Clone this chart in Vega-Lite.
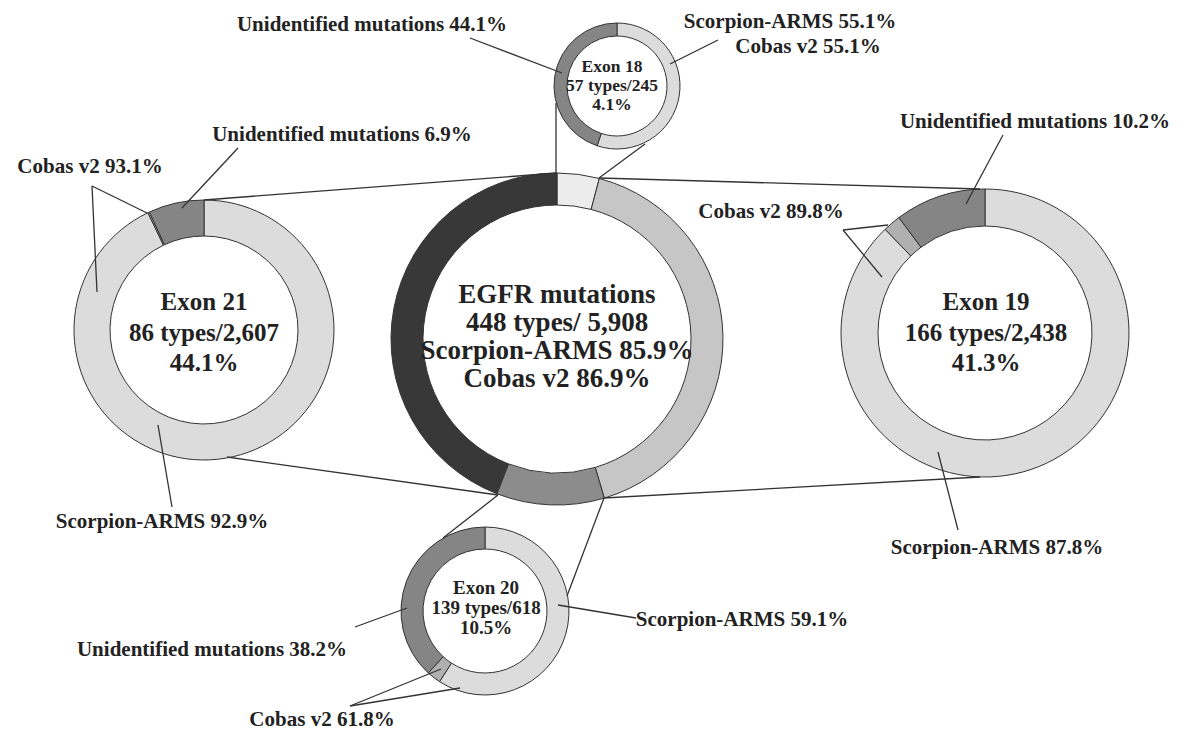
{
  "$schema": "https://vega.github.io/schema/vega-lite/v6.json",
  "width": 1196,
  "height": 736,
  "autosize": "none",
  "padding": 0,
  "background": "white",
  "config": {"view": {"stroke": null}},
  "datasets": {
    "segs": [
      {"donut": "center", "seg": "e18", "order": 1, "value": 4.1, "cx": 557, "cy": 339},
      {"donut": "center", "seg": "e19", "order": 2, "value": 41.3, "cx": 557, "cy": 339},
      {"donut": "center", "seg": "e20", "order": 3, "value": 10.5, "cx": 557, "cy": 339},
      {"donut": "center", "seg": "e21", "order": 4, "value": 44.1, "cx": 557, "cy": 339},
      {"donut": "exon21", "seg": "grid", "order": 1, "value": 92.9, "cx": 204, "cy": 330},
      {"donut": "exon21", "seg": "cobas", "order": 2, "value": 0.2, "cx": 204, "cy": 330},
      {"donut": "exon21", "seg": "unid", "order": 3, "value": 6.9, "cx": 204, "cy": 330},
      {"donut": "exon19", "seg": "grid", "order": 1, "value": 87.8, "cx": 985, "cy": 333},
      {"donut": "exon19", "seg": "cobas", "order": 2, "value": 2.0, "cx": 985, "cy": 333},
      {"donut": "exon19", "seg": "unid", "order": 3, "value": 10.2, "cx": 985, "cy": 333},
      {"donut": "exon18", "seg": "grid", "order": 1, "value": 55.1, "cx": 617, "cy": 86},
      {"donut": "exon18", "seg": "unid", "order": 3, "value": 44.9, "cx": 617, "cy": 86},
      {"donut": "exon20", "seg": "grid", "order": 1, "value": 59.1, "cx": 485, "cy": 611},
      {"donut": "exon20", "seg": "cobas", "order": 2, "value": 2.7, "cx": 485, "cy": 611},
      {"donut": "exon20", "seg": "unid", "order": 3, "value": 38.2, "cx": 485, "cy": 611}
    ],
    "lines": [
      {"x": 204, "y": 200, "x2": 557, "y2": 173},
      {"x": 227, "y": 457, "x2": 498, "y2": 495},
      {"x": 599, "y": 178, "x2": 980, "y2": 189},
      {"x": 604, "y": 498, "x2": 980, "y2": 477},
      {"x": 556, "y": 173, "x2": 556, "y2": 103},
      {"x": 599, "y": 178, "x2": 645, "y2": 144},
      {"x": 498, "y": 495, "x2": 443, "y2": 538},
      {"x": 604, "y": 498, "x2": 567, "y2": 596},
      {"x": 470, "y": 38, "x2": 562, "y2": 73},
      {"x": 670, "y": 64, "x2": 718, "y2": 40},
      {"x": 238, "y": 148, "x2": 182, "y2": 208},
      {"x": 92, "y": 186, "x2": 147, "y2": 213},
      {"x": 92, "y": 186, "x2": 97, "y2": 292},
      {"x": 172, "y": 507, "x2": 158, "y2": 425},
      {"x": 1003, "y": 135, "x2": 966, "y2": 204},
      {"x": 843, "y": 230, "x2": 888, "y2": 225},
      {"x": 843, "y": 230, "x2": 882, "y2": 277},
      {"x": 958, "y": 530, "x2": 938, "y2": 452},
      {"x": 355, "y": 627, "x2": 407, "y2": 608},
      {"x": 350, "y": 706, "x2": 441, "y2": 669},
      {"x": 350, "y": 706, "x2": 460, "y2": 688},
      {"x": 636, "y": 618, "x2": 558, "y2": 605}
    ],
    "centerText": [
      {"x": 557, "y": 295, "text": "EGFR mutations"},
      {"x": 557, "y": 323, "text": "448 types/ 5,908"},
      {"x": 557, "y": 351, "text": "Scorpion-ARMS 85.9%"},
      {"x": 557, "y": 379, "text": "Cobas v2 86.9%"}
    ],
    "bigText": [
      {"x": 204, "y": 302, "text": "Exon 21"},
      {"x": 204, "y": 333, "text": "86 types/2,607"},
      {"x": 204, "y": 363, "text": "44.1%"},
      {"x": 986, "y": 302, "text": "Exon 19"},
      {"x": 986, "y": 333, "text": "166 types/2,438"},
      {"x": 986, "y": 363, "text": "41.3%"}
    ],
    "smallText": [
      {"x": 612, "y": 67, "text": "Exon 18"},
      {"x": 612, "y": 86, "text": "57 types/245"},
      {"x": 612, "y": 105, "text": "4.1%"}
    ],
    "midText": [
      {"x": 486, "y": 588, "text": "Exon 20"},
      {"x": 486, "y": 608, "text": "139 types/618"},
      {"x": 486, "y": 628, "text": "10.5%"}
    ],
    "labels": [
      {"x": 372, "y": 25, "text": "Unidentified mutations 44.1%"},
      {"x": 790, "y": 22, "text": "Scorpion-ARMS 55.1%"},
      {"x": 808, "y": 47, "text": "Cobas v2 55.1%"},
      {"x": 342, "y": 135, "text": "Unidentified mutations 6.9%"},
      {"x": 90, "y": 167, "text": "Cobas v2 93.1%"},
      {"x": 162, "y": 522, "text": "Scorpion-ARMS 92.9%"},
      {"x": 1035, "y": 122, "text": "Unidentified mutations 10.2%"},
      {"x": 771, "y": 212, "text": "Cobas v2 89.8%"},
      {"x": 997, "y": 548, "text": "Scorpion-ARMS 87.8%"},
      {"x": 212, "y": 650, "text": "Unidentified mutations 38.2%"},
      {"x": 322, "y": 720, "text": "Cobas v2 61.8%"},
      {"x": 742, "y": 620, "text": "Scorpion-ARMS 59.1%"}
    ]
  },
  "layer": [
    {
      "data": {"name": "segs"},
      "transform": [
        {"filter": "datum.donut === 'center'"},
        {"stack": "value", "groupby": ["donut"], "sort": [{"field": "order", "order": "ascending"}], "as": ["t0", "t1"], "offset": "normalize"}
      ],
      "mark": {"type": "arc", "innerRadius": 134, "outerRadius": 166, "stroke": "#333333", "strokeWidth": 1},
      "encoding": {
        "x": {"field": "cx", "type": "quantitative", "scale": {"domain": [0, 1196], "nice": false, "zero": false}, "axis": null},
        "y": {"field": "cy", "type": "quantitative", "scale": {"domain": [0, 736], "reverse": true, "nice": false, "zero": false}, "axis": null},
        "theta": {"field": "t0", "type": "quantitative", "stack": null, "scale": {"domain": [0, 1], "range": [0, 6.283185307]}},
        "theta2": {"field": "t1"},
        "color": {"field": "seg", "type": "nominal", "legend": null, "scale": {"domain": ["e18", "e19", "e20", "e21", "grid", "cobas", "unid"], "range": ["#ececec", "#c6c6c6", "#8c8c8c", "#383838", "#dcdcdc", "#b0b0b0", "#858585"]}}
      }
    },
    {
      "data": {"name": "segs"},
      "transform": [
        {"filter": "datum.donut === 'exon21'"},
        {"stack": "value", "groupby": ["donut"], "sort": [{"field": "order", "order": "ascending"}], "as": ["t0", "t1"], "offset": "normalize"}
      ],
      "mark": {"type": "arc", "innerRadius": 94, "outerRadius": 130, "stroke": "#333333", "strokeWidth": 1},
      "encoding": {
        "x": {"field": "cx", "type": "quantitative"},
        "y": {"field": "cy", "type": "quantitative"},
        "theta": {"field": "t0", "type": "quantitative", "stack": null},
        "theta2": {"field": "t1"},
        "color": {"field": "seg", "type": "nominal", "legend": null}
      }
    },
    {
      "data": {"name": "segs"},
      "transform": [
        {"filter": "datum.donut === 'exon19'"},
        {"stack": "value", "groupby": ["donut"], "sort": [{"field": "order", "order": "ascending"}], "as": ["t0", "t1"], "offset": "normalize"}
      ],
      "mark": {"type": "arc", "innerRadius": 107, "outerRadius": 144, "stroke": "#333333", "strokeWidth": 1},
      "encoding": {
        "x": {"field": "cx", "type": "quantitative"},
        "y": {"field": "cy", "type": "quantitative"},
        "theta": {"field": "t0", "type": "quantitative", "stack": null},
        "theta2": {"field": "t1"},
        "color": {"field": "seg", "type": "nominal", "legend": null}
      }
    },
    {
      "data": {"name": "segs"},
      "transform": [
        {"filter": "datum.donut === 'exon18'"},
        {"stack": "value", "groupby": ["donut"], "sort": [{"field": "order", "order": "ascending"}], "as": ["t0", "t1"], "offset": "normalize"}
      ],
      "mark": {"type": "arc", "innerRadius": 50, "outerRadius": 63, "stroke": "#333333", "strokeWidth": 1},
      "encoding": {
        "x": {"field": "cx", "type": "quantitative"},
        "y": {"field": "cy", "type": "quantitative"},
        "theta": {"field": "t0", "type": "quantitative", "stack": null},
        "theta2": {"field": "t1"},
        "color": {"field": "seg", "type": "nominal", "legend": null}
      }
    },
    {
      "data": {"name": "segs"},
      "transform": [
        {"filter": "datum.donut === 'exon20'"},
        {"stack": "value", "groupby": ["donut"], "sort": [{"field": "order", "order": "ascending"}], "as": ["t0", "t1"], "offset": "normalize"}
      ],
      "mark": {"type": "arc", "innerRadius": 62, "outerRadius": 84, "stroke": "#333333", "strokeWidth": 1},
      "encoding": {
        "x": {"field": "cx", "type": "quantitative"},
        "y": {"field": "cy", "type": "quantitative"},
        "theta": {"field": "t0", "type": "quantitative", "stack": null},
        "theta2": {"field": "t1"},
        "color": {"field": "seg", "type": "nominal", "legend": null}
      }
    },
    {
      "data": {"name": "lines"},
      "mark": {"type": "rule", "color": "#333333", "strokeWidth": 1.3},
      "encoding": {
        "x": {"field": "x", "type": "quantitative"},
        "y": {"field": "y", "type": "quantitative"},
        "x2": {"field": "x2"},
        "y2": {"field": "y2"}
      }
    },
    {
      "data": {"name": "centerText"},
      "mark": {"type": "text", "font": "Liberation Serif", "fontWeight": "bold", "fontSize": 27, "color": "#222222", "align": "center", "baseline": "middle"},
      "encoding": {
        "x": {"field": "x", "type": "quantitative"},
        "y": {"field": "y", "type": "quantitative"},
        "text": {"field": "text"}
      }
    },
    {
      "data": {"name": "bigText"},
      "mark": {"type": "text", "font": "Liberation Serif", "fontWeight": "bold", "fontSize": 25, "color": "#222222", "align": "center", "baseline": "middle"},
      "encoding": {
        "x": {"field": "x", "type": "quantitative"},
        "y": {"field": "y", "type": "quantitative"},
        "text": {"field": "text"}
      }
    },
    {
      "data": {"name": "smallText"},
      "mark": {"type": "text", "font": "Liberation Serif", "fontWeight": "bold", "fontSize": 17.5, "color": "#222222", "align": "center", "baseline": "middle"},
      "encoding": {
        "x": {"field": "x", "type": "quantitative"},
        "y": {"field": "y", "type": "quantitative"},
        "text": {"field": "text"}
      }
    },
    {
      "data": {"name": "midText"},
      "mark": {"type": "text", "font": "Liberation Serif", "fontWeight": "bold", "fontSize": 19, "color": "#222222", "align": "center", "baseline": "middle"},
      "encoding": {
        "x": {"field": "x", "type": "quantitative"},
        "y": {"field": "y", "type": "quantitative"},
        "text": {"field": "text"}
      }
    },
    {
      "data": {"name": "labels"},
      "mark": {"type": "text", "font": "Liberation Serif", "fontWeight": "bold", "fontSize": 21, "color": "#222222", "align": "center", "baseline": "middle"},
      "encoding": {
        "x": {"field": "x", "type": "quantitative"},
        "y": {"field": "y", "type": "quantitative"},
        "text": {"field": "text"}
      }
    }
  ]
}
